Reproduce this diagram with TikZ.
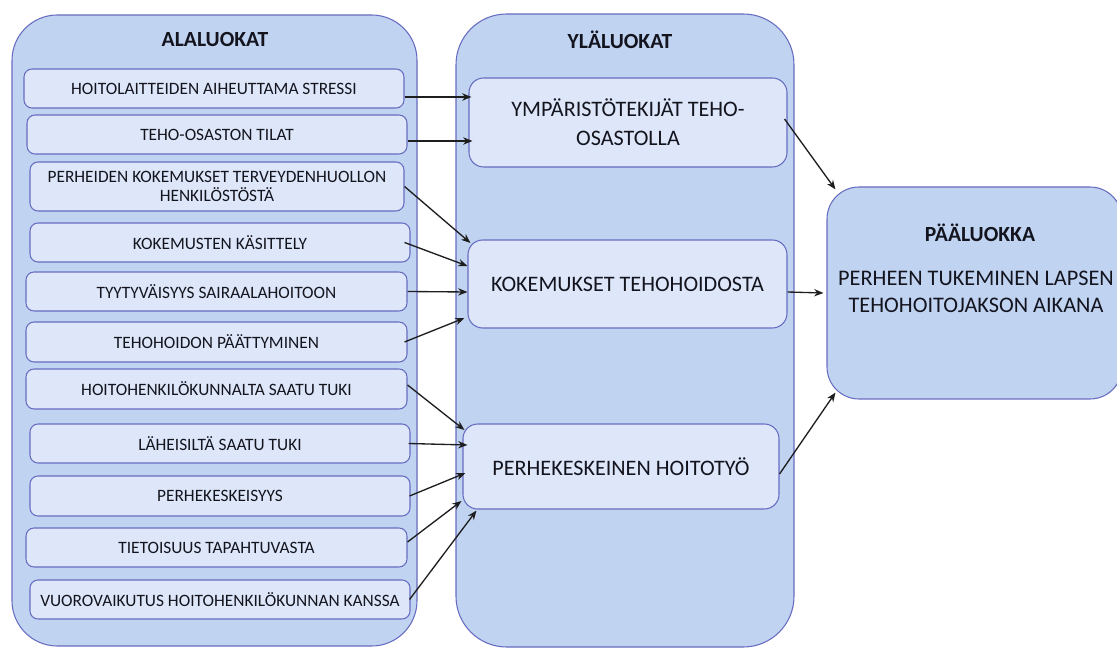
\documentclass[tikz,border=0pt]{standalone}
\usepackage{fontspec}
\setmainfont{Carlito}
\usetikzlibrary{arrows.meta,calc}
\definecolor{outerfill}{RGB}{192,212,242}
\definecolor{innerfill}{RGB}{221,231,249}
\definecolor{edgecol}{RGB}{104,108,192}
\definecolor{arrcol}{RGB}{30,30,30}
\definecolor{txtcol}{RGB}{20,20,30}
\newcommand\mkbox[7]{\node[#1, minimum width={(#4-#2)*0.75pt}, minimum height={(#5-#3)*0.75pt}] (#6) at ({(#2+#4)/2},{(#3+#5)/2}) {#7};}
\begin{document}
\begin{tikzpicture}[x=0.75pt,y=-0.75pt,
  container/.style={draw=edgecol, fill=outerfill, line width=0.8pt, inner sep=0pt},
  subbox/.style={draw=edgecol, fill=innerfill, rounded corners=6pt, line width=0.8pt, text=txtcol,
    font=\fontsize{13}{14.25}\selectfont, align=center, inner sep=0pt},
  midbox/.style={draw=edgecol, fill=innerfill, rounded corners=11pt, line width=0.8pt, text=txtcol,
    font=\fontsize{16.6}{21.75}\selectfont, align=center, inner sep=0pt},
  heading/.style={font=\bfseries\fontsize{16.2}{18}\selectfont, text=txtcol, inner sep=0pt},
  conn/.style={-{Stealth[length=7pt,width=5.5pt]}, draw=arrcol, line width=1pt}]
\useasboundingbox (0,0) rectangle (1117,648);
% containers
\mkbox{container, rounded corners=34pt}{12}{15}{417}{646}{L}{}
\mkbox{container, rounded corners=38pt}{456}{14}{794}{647}{M}{}
\mkbox{container, rounded corners=24pt}{827}{187}{1122}{399}{P}{}
% headings
\node[heading] (tL) at (215,40) {ALALUOKAT};
\node[heading] (tM) at (620,40) {YLÄLUOKAT};
\node[heading] (tP) at (980,233) {PÄÄLUOKKA};
\node[font=\fontsize{16.7}{20.25}\selectfont, align=center, text=txtcol, inner sep=0pt] (pt) at (976,291.5)
  {PERHEEN TUKEMINEN LAPSEN\\TEHOHOITOJAKSON AIKANA};
% sub categories
\mkbox{subbox}{24}{69}{404}{108}{b1}{HOITOLAITTEIDEN AIHEUTTAMA STRESSI}
\mkbox{subbox}{27}{115}{407}{154}{b2}{TEHO-OSASTON TILAT}
\mkbox{subbox}{30}{162}{404}{211}{b3}{PERHEIDEN KOKEMUKSET TERVEYDENHUOLLON\\HENKILÖSTÖSTÄ}
\mkbox{subbox}{30}{223}{410}{262}{b4}{KOKEMUSTEN KÄSITTELY}
\mkbox{subbox}{26}{272}{407}{311}{b5}{TYYTYVÄISYYS SAIRAALAHOITOON}
\mkbox{subbox}{26}{322}{407}{362}{b6}{TEHOHOIDON PÄÄTTYMINEN}
\mkbox{subbox}{26}{369}{407}{409}{b7}{HOITOHENKILÖKUNNALTA SAATU TUKI}
\mkbox{subbox}{30}{424}{410}{463}{b8}{LÄHEISILTÄ SAATU TUKI}
\mkbox{subbox}{30}{476}{410}{516}{b9}{PERHEKESKEISYYS}
\mkbox{subbox}{26}{528}{407}{567}{b10}{TIETOISUUS TAPAHTUVASTA}
\mkbox{subbox}{30}{580}{410}{619}{b11}{VUOROVAIKUTUS HOITOHENKILÖKUNNAN KANSSA}
% upper categories
\mkbox{midbox}{469}{78}{787}{167}{A}{YMPÄRISTÖTEKIJÄT TEHO-\\OSASTOLLA}
\mkbox{midbox}{468}{240}{787}{328}{B}{KOKEMUKSET TEHOHOIDOSTA}
\mkbox{midbox}{463}{424}{779}{509}{C}{PERHEKESKEINEN HOITOTYÖ}
% connectors
\draw[conn] ($(b1.east)+(0,8.5)$) -- ($(A.west)+(3,-25.5)$);
\draw[conn] ($(b2.east)+(0,6.5)$) -- ($(A.west)+(4,18.5)$);
\draw[conn] (b3.east) -- ($(B.west)+(3,-41)$);
\draw[conn] ($(b4.east)+(-6,0)$) -- ($(B.west)+(0,-18)$);
\draw[conn] (b5.east) -- ($(B.west)+(0,8)$);
\draw[conn] ($(b6.east)+(-3,0)$) -- ($(B.west)+(-3,34)$);
\draw[conn] ($(b7.east)+(0,-4)$) -- ($(C.west)+(2,-36.5)$);
\draw[conn] ($(b8.east)+(-2,0)$) -- ($(C.west)+(5,-21.5)$);
\draw[conn] ($(b9.east)+(-1,0)$) -- ($(C.west)+(3,6.5)$);
\draw[conn] ($(b10.east)+(0,-5.5)$) -- ($(C.west)+(-1,34.5)$);
\draw[conn] ($(b11.east)+(-1,0)$) -- ($(C.south west)+(14,1)$);
\draw[conn] ($(A.east)+(-3,-3.5)$) -- ($(P.north west)+(9,3)$);
\draw[conn] ($(B.east)+(0,8)$) -- ($(P.west)+(-3,0)$);
\draw[conn] ($(C.east)+(0,7.5)$) -- ($(P.south west)+(9,-7)$);
\end{tikzpicture}
\end{document}
